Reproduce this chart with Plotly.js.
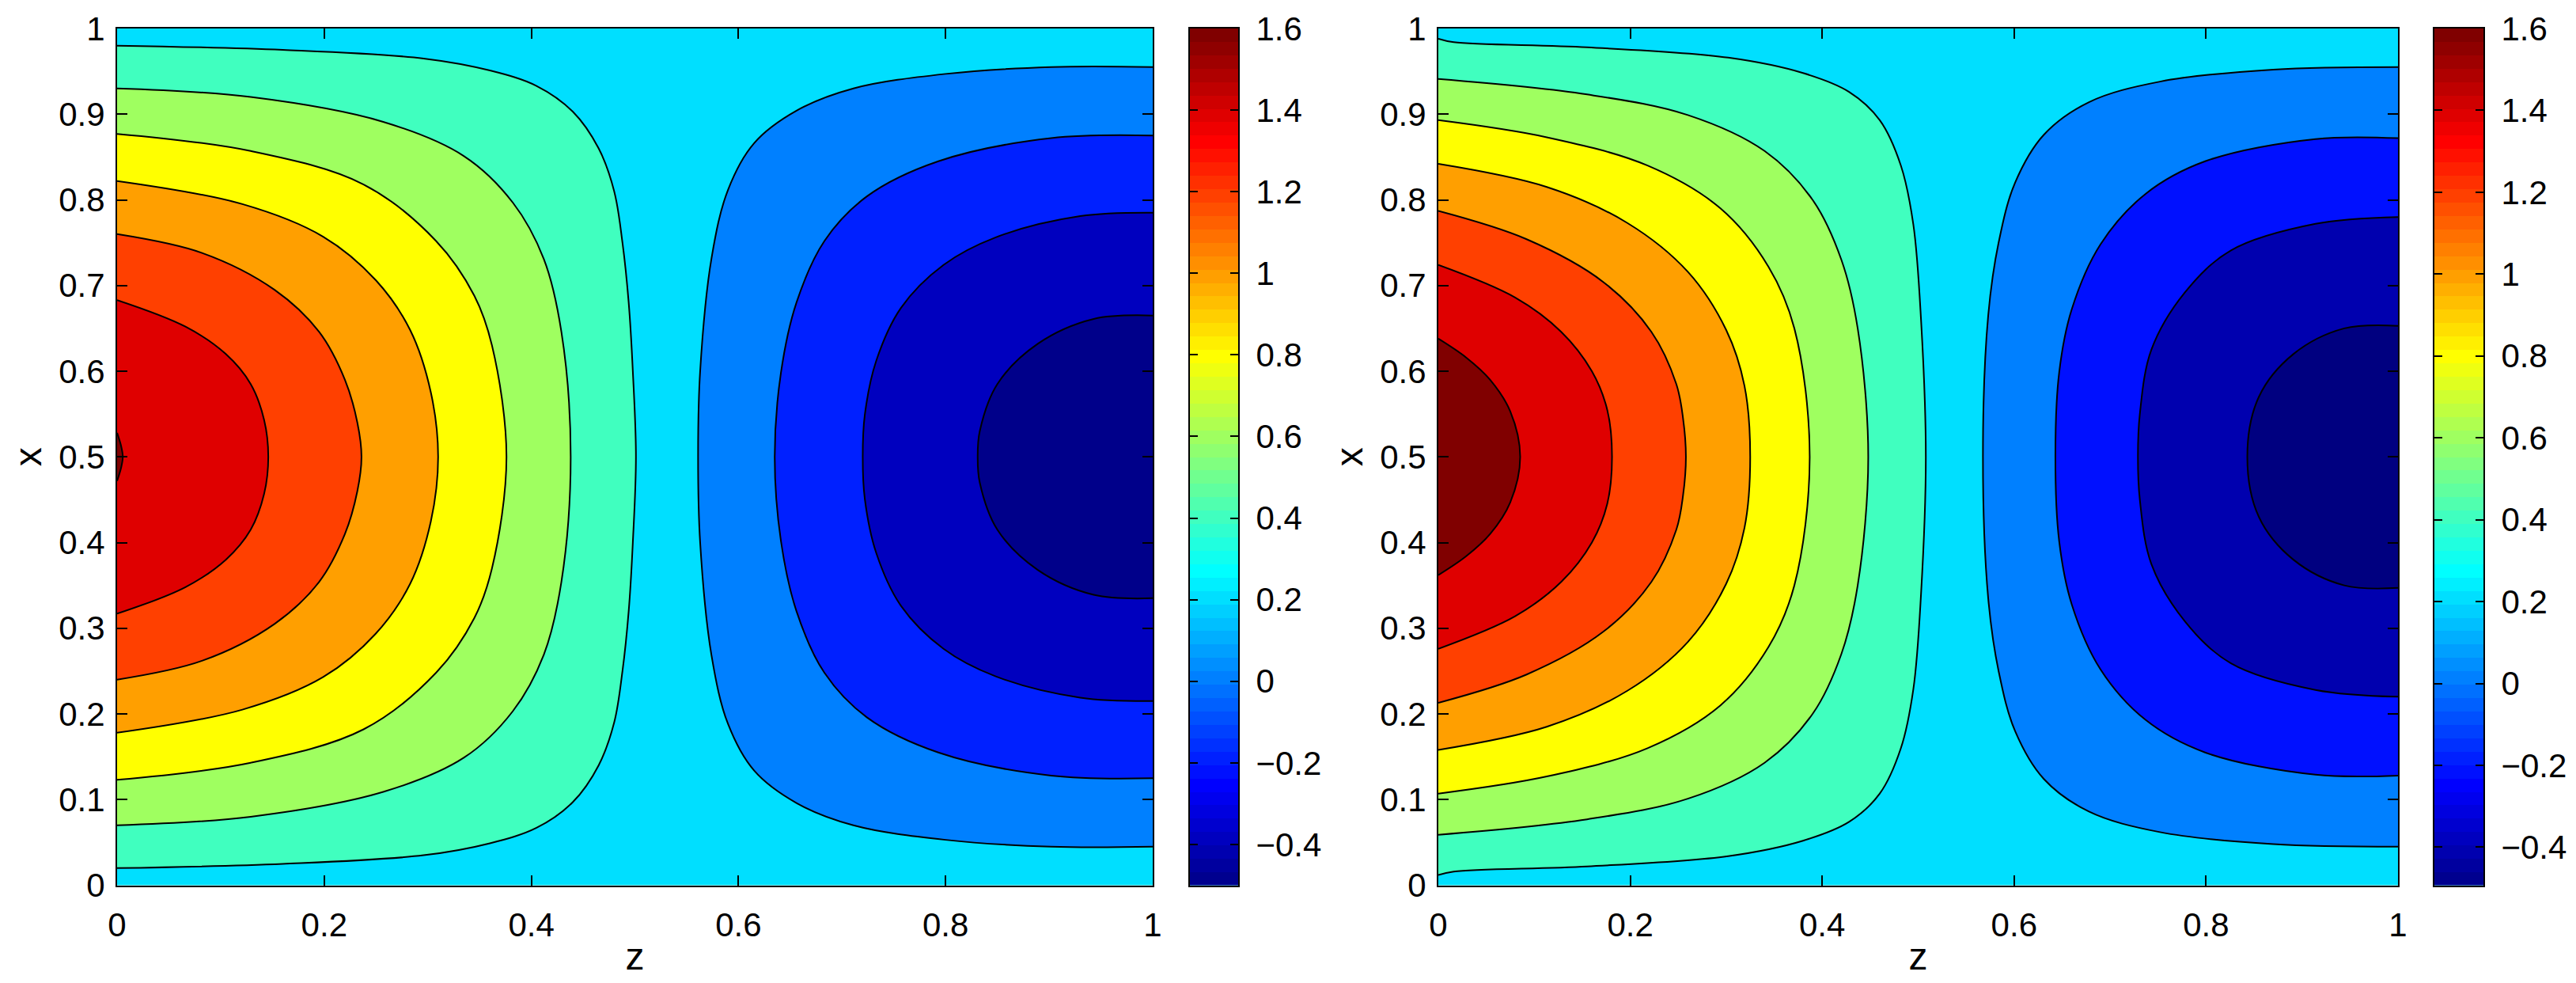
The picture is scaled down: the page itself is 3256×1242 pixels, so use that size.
<!DOCTYPE html>
<html>
<head>
<meta charset="utf-8">
<script src="https://cdn.plot.ly/plotly-3.0.1.min.js"></script>
<style>html,body{margin:0;padding:0;background:#fff}</style>
</head>
<body>
<div id="chart" style="width:3256px;height:1242px"></div>
<script>
// ---------- tick labels ----------
const zTicks = [0, 0.2, 0.4, 0.6, 0.8, 1];
const xTicks = [0, 0.1, 0.2, 0.3, 0.4, 0.5, 0.6, 0.7, 0.8, 0.9, 1];
const barTicks = [-0.4, -0.2, 0, 0.2, 0.4, 0.6, 0.8, 1, 1.2, 1.4, 1.6];
const leftBarRange = [-0.5, 1.6];
const rightBarRange = [-0.493, 1.6];

// ---------- left panel: contour lines (z, x) ----------
const leftAquaZ = [0,.160,.296,.360,.405,.440,.465,.480,.488,.494,.498,.501,.498,.494,.488,.480,.465,.440,.405,.360,.296,.160,0];
const leftAquaX = [.980,.975,.965,.951,.933,.903,.860,.810,.750,.680,.600,.5,.400,.320,.250,.190,.140,.097,.067,.049,.035,.025,.020];
const leftGreenZ = [0,.129,.257,.335,.382,.412,.429,.438,.429,.412,.382,.335,.257,.129,0];
const leftGreenX = [.930,.920,.891,.851,.797,.731,.646,.5,.354,.269,.203,.149,.109,.080,.070];
const leftYellowZ = [0,.129,.238,.308,.345,.362,.376,.362,.345,.308,.238,.129,0];
const leftYellowX = [.877,.857,.818,.752,.688,.630,.5,.370,.312,.248,.182,.143,.123];
const leftOrangeZ = [0,.121,.199,.250,.283,.303,.310,.303,.283,.250,.199,.121,0];
const leftOrangeX = [.822,.795,.757,.706,.648,.575,.5,.425,.352,.294,.243,.205,.178];
const leftDeepOrangeZ = [0,.082,.152,.195,.220,.232,.236,.232,.220,.195,.152,.082,0];
const leftDeepOrangeX = [.760,.738,.695,.646,.590,.540,.5,.460,.410,.354,.305,.262,.240];
const leftRedZ = [0,.066,.105,.129,.142,.146,.142,.129,.105,.066,0];
const leftRedX = [.683,.652,.620,.585,.543,.5,.457,.415,.380,.348,.317];
const leftDarkZ = [0,.004,.0055,.004,0];
const leftDarkX = [.528,.512,.5,.488,.472];

const leftAzureZ = [1,.902,.800,.711,.656,.615,.590,.574,.563,.561,.563,.574,.590,.615,.656,.711,.800,.902,1];
const leftAzureX = [.955,.955,.947,.930,.904,.866,.812,.732,.600,.5,.400,.268,.188,.134,.096,.070,.053,.045,.045];
const leftBlueZ = [1,.902,.793,.724,.683,.656,.641,.635,.641,.656,.683,.724,.793,.902,1];
const leftBlueX = [.875,.872,.845,.804,.752,.680,.598,.5,.402,.320,.248,.196,.155,.128,.125];
const leftDeepBlueZ = [1,.930,.848,.798,.757,.733,.722,.720,.722,.733,.757,.798,.848,.930,1];
const leftDeepBlueX = [.785,.781,.756,.724,.674,.612,.549,.5,.451,.388,.326,.276,.244,.219,.215];
const leftNavyZ = [1,.943,.889,.850,.833,.831,.833,.850,.889,.943,1];
const leftNavyX = [.665,.661,.632,.585,.530,.5,.470,.415,.368,.339,.335];

// ---------- right panel: contour lines (z, x) ----------
const rightAquaZ = [0,.016,.155,.302,.380,.428,.460,.482,.495,.503,.508,.503,.495,.482,.460,.428,.380,.302,.155,.016,0];
const rightAquaX = [.988,.984,.978,.966,.948,.926,.893,.840,.771,.660,.5,.340,.229,.160,.107,.074,.052,.034,.022,.016,.012];
const rightGreenZ = [0,.155,.260,.340,.390,.420,.437,.448,.437,.420,.390,.340,.260,.155,0];
const rightGreenX = [.941,.923,.899,.857,.800,.730,.650,.5,.350,.270,.200,.143,.101,.077,.059];
const rightYellowZ = [0,.113,.218,.294,.344,.371,.387,.371,.344,.294,.218,.113,0];
const rightYellowX = [.893,.873,.840,.790,.722,.650,.5,.350,.278,.210,.160,.127,.107];
const rightOrangeZ = [0,.113,.197,.260,.300,.319,.325,.319,.300,.260,.197,.113,0];
const rightOrangeX = [.842,.815,.773,.716,.648,.583,.5,.417,.352,.284,.227,.185,.158];
const rightDeepOrangeZ = [0,.092,.172,.222,.248,.255,.258,.255,.248,.222,.172,.092,0];
const rightDeepOrangeX = [.787,.754,.704,.646,.585,.545,.5,.455,.415,.354,.296,.246,.213];
const rightRedZ = [0,.080,.128,.160,.176,.181,.176,.160,.128,.080,0];
const rightRedX = [.724,.686,.646,.600,.555,.5,.445,.400,.354,.314,.276];
const rightDarkZ = [0,.029,.054,.075,.0853,.075,.054,.029,0];
const rightDarkX = [.638,.616,.590,.553,.5,.447,.410,.384,.362];

const rightAzureZ = [1,.870,.752,.678,.631,.601,.584,.573,.5675,.573,.584,.601,.631,.678,.752,.870,1];
const rightAzureX = [.955,.952,.938,.914,.876,.820,.751,.665,.5,.335,.249,.180,.124,.086,.062,.048,.045];
const rightBlueZ = [1,.914,.799,.737,.690,.660,.647,.643,.647,.660,.690,.737,.799,.914,1];
const rightBlueX = [.872,.871,.845,.807,.748,.672,.599,.5,.401,.328,.252,.193,.155,.129,.128];
const rightDeepBlueZ = [1,.914,.826,.778,.743,.731,.729,.731,.743,.778,.826,.914,1];
const rightDeepBlueX = [.780,.772,.741,.692,.625,.550,.5,.450,.375,.308,.259,.228,.220];
const rightNavyZ = [1,.944,.891,.855,.843,.855,.891,.944,1];
const rightNavyX = [.653,.650,.620,.570,.5,.430,.380,.350,.347];

// ---------- fill colours ----------
const cyanFill = '#00DFFF', aquaFill = '#40FFBF', greenFill = '#9FFF60', yellowFill = '#FFFF00',
      orangeFill = '#FF9F00', deepOrangeFill = '#FF4000', redFill = '#DF0000', darkFill = '#800000',
      azureFill = '#0080FF';

// ---------- jet colormap, 64 bands ----------
function jetPart(k) {
  if (k < 1) return 0;
  if (k <= 16) return k / 16;
  if (k <= 31) return 1;
  if (k <= 47) return (48 - k) / 16;
  return 0;
}
const jetIndex = Array.from({length: 64}, (_, i) => i);
const jetScale = [];
jetIndex.forEach(i => {
  const n = i + 1;
  const col = 'rgb(' + Math.round(255 * jetPart(n - 24)) + ',' + Math.round(255 * jetPart(n - 8)) + ',' + Math.round(255 * jetPart(n + 8)) + ')';
  jetScale.push([i / 64, col], [(i + 1) / 64, col]);
});

// ---------- layout geometry ----------
const W = 3256, H = 1242;
const plotTop = 36, plotBottom = 1118.5;
const xd = (a, b) => [a / W, b / W];
const yd = [(H - plotBottom) / H, (H - plotTop) / H];
const fontFamily = '"Liberation Sans", Arial, sans-serif';
const tickFont = {family: fontFamily, size: 42, color: '#000'};
const titleFont = {family: fontFamily, size: 48, color: '#000'};

function band(zs, xs, color, xa, ya, name) {
  return {type: 'scatter', mode: 'lines', x: zs, y: xs, xaxis: xa, yaxis: ya, name: name,
    fill: 'toself', fillcolor: color, hoverinfo: 'skip', showlegend: false,
    line: {color: '#000', width: 2, shape: 'spline', smoothing: 1}};
}
function colourBar(range, xa, ya) {
  const dy = (range[1] - range[0]) / 64;
  return {type: 'heatmap', z: jetIndex.map(i => [i]), x0: 0, dx: 1, y0: range[0] + dy / 2, dy: dy,
    xaxis: xa, yaxis: ya, colorscale: jetScale, zmin: -0.5, zmax: 63.5, showscale: false, hoverinfo: 'skip', zsmooth: false};
}

const data = [
  band(leftAquaZ, leftAquaX, aquaFill, 'x', 'y', 'aqua'),
  band(leftGreenZ, leftGreenX, greenFill, 'x', 'y', 'green'),
  band(leftYellowZ, leftYellowX, yellowFill, 'x', 'y', 'yellow'),
  band(leftOrangeZ, leftOrangeX, orangeFill, 'x', 'y', 'orange'),
  band(leftDeepOrangeZ, leftDeepOrangeX, deepOrangeFill, 'x', 'y', 'deep orange'),
  band(leftRedZ, leftRedX, redFill, 'x', 'y', 'red'),
  band(leftDarkZ, leftDarkX, darkFill, 'x', 'y', 'dark red'),
  band(leftAzureZ, leftAzureX, azureFill, 'x', 'y', 'azure'),
  band(leftBlueZ, leftBlueX, '#0020FF', 'x', 'y', 'blue'),
  band(leftDeepBlueZ, leftDeepBlueX, '#0000BF', 'x', 'y', 'deep blue'),
  band(leftNavyZ, leftNavyX, '#00008A', 'x', 'y', 'navy'),
  colourBar(leftBarRange, 'x2', 'y2'),
  band(rightAquaZ, rightAquaX, aquaFill, 'x3', 'y3', 'aqua'),
  band(rightGreenZ, rightGreenX, greenFill, 'x3', 'y3', 'green'),
  band(rightYellowZ, rightYellowX, yellowFill, 'x3', 'y3', 'yellow'),
  band(rightOrangeZ, rightOrangeX, orangeFill, 'x3', 'y3', 'orange'),
  band(rightDeepOrangeZ, rightDeepOrangeX, deepOrangeFill, 'x3', 'y3', 'deep orange'),
  band(rightRedZ, rightRedX, redFill, 'x3', 'y3', 'red'),
  band(rightDarkZ, rightDarkX, darkFill, 'x3', 'y3', 'dark red'),
  band(rightAzureZ, rightAzureX, azureFill, 'x3', 'y3', 'azure'),
  band(rightBlueZ, rightBlueX, '#0010FF', 'x3', 'y3', 'blue'),
  band(rightDeepBlueZ, rightDeepBlueX, '#0000AF', 'x3', 'y3', 'deep blue'),
  band(rightNavyZ, rightNavyX, '#000080', 'x3', 'y3', 'navy'),
  colourBar(rightBarRange, 'x4', 'y4')
];

const common = {showline: true, linecolor: '#000', linewidth: 2, mirror: 'ticks', showgrid: false, zeroline: false,
  ticks: 'inside', tickcolor: '#000', tickwidth: 2, fixedrange: true};
function zAxis(dom, anchor) {
  return Object.assign({}, common, {domain: dom, anchor: anchor, range: [0, 1], tickmode: 'array', tickvals: zTicks,
    ticklen: 13, tickfont: tickFont, ticklabelstandoff: 12, title: {text: 'z', font: titleFont, standoff: 0}});
}
function xAxis(anchor) {
  return Object.assign({}, common, {domain: yd, anchor: anchor, range: [0, 1], tickmode: 'array', tickvals: xTicks,
    ticklen: 13, tickfont: tickFont, ticklabelstandoff: 5, title: {text: 'x', font: titleFont, standoff: 6}});
}
function barX(dom, anchor) {
  return {domain: dom, anchor: anchor, range: [-0.5, 0.5], showticklabels: false, ticks: '', showgrid: false, zeroline: false,
    showline: true, linecolor: '#000', linewidth: 2, mirror: true, fixedrange: true};
}
function barY(range, anchor) {
  return Object.assign({}, common, {domain: yd, anchor: anchor, range: range, side: 'right', tickmode: 'array', tickvals: barTicks,
    ticklen: 10, tickfont: tickFont, ticklabelstandoff: 12});
}

const layout = {
  width: W, height: H, margin: {l: 0, r: 0, t: 0, b: 0, pad: 0},
  paper_bgcolor: '#fff', plot_bgcolor: cyanFill, showlegend: false,
  xaxis: zAxis(xd(148, 1457), 'y'), yaxis: xAxis('x'),
  xaxis2: barX(xd(1504, 1565), 'y2'), yaxis2: barY(leftBarRange, 'x2'),
  xaxis3: zAxis(xd(1818, 3031), 'y3'), yaxis3: xAxis('x3'),
  xaxis4: barX(xd(3077, 3139), 'y4'), yaxis4: barY(rightBarRange, 'x4')
};
Plotly.newPlot('chart', data, layout, {displayModeBar: false, responsive: false});
</script>
</body>
</html>
